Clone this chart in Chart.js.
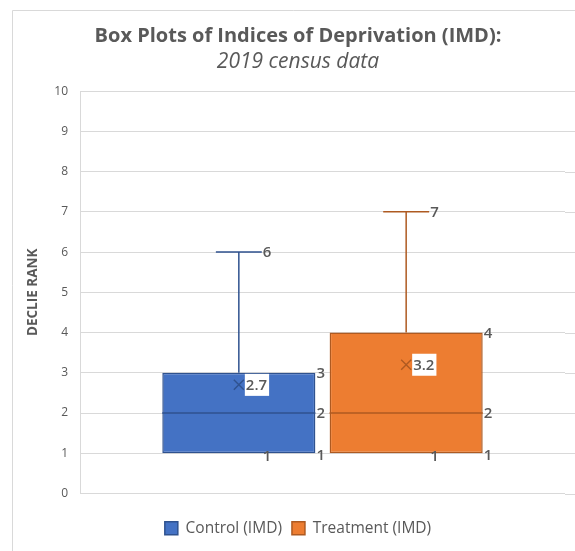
<!DOCTYPE html>
<html>
<head>
<meta charset="utf-8">
<script src="https://cdn.jsdelivr.net/npm/chart.js@4"></script>
<style>
  html, body { margin: 0; padding: 0; background: #fff; overflow: hidden; }
  #wrap { position: relative; width: 575px; height: 560px; }
</style>
</head>
<body>
<div id="wrap"><canvas id="chart" width="575" height="560"></canvas></div>
<script>
// box plot data
var seriesNames = ['Control (IMD)', 'Treatment (IMD)'];
var minValues = [1, 1];
var q1Values = [1, 1];
var medianValues = [2, 2];
var q3Values = [3, 4];
var maxValues = [6, 7];
var meanValues = [2.7, 3.2];
var yTicks = [0, 1, 2, 3, 4, 5, 6, 7, 8, 9, 10];

var fillColors = ['#4472C4', '#ED7D31'];
var lineColors = ['#2F528F', '#AE5A21'];
var textColor = '#595959';
var fontFamily = '"Open Sans", "DejaVu Sans", sans-serif';

var datasets = seriesNames.map(function (name, i) {
  return {
    label: name,
    data: [[q1Values[i], q3Values[i]]],
    backgroundColor: fillColors[i],
    borderColor: lineColors[i],
    borderWidth: 1.5,
    borderSkipped: false,
    categoryPercentage: 0.69,
    barPercentage: 0.915
  };
});

// frame round the whole chart, like the office chart border
var framePlugin = {
  id: 'frame',
  beforeDraw: function (chart) {
    var ctx = chart.ctx;
    ctx.save();
    ctx.fillStyle = '#fff';
    ctx.fillRect(0, 0, chart.width, chart.height);
    ctx.strokeStyle = '#d9d9d9';
    ctx.lineWidth = 1;
    ctx.beginPath();
    ctx.moveTo(12.5, chart.height);
    ctx.lineTo(12.5, 10.5);
    ctx.lineTo(chart.width, 10.5);
    ctx.stroke();
    // grid lines run on past the plot area to the right edge
    var y = chart.scales.y;
    ctx.beginPath();
    yTicks.forEach(function (t) {
      var py = Math.round(y.getPixelForValue(t)) + 0.5;
      ctx.moveTo(chart.chartArea.right, py);
      ctx.lineTo(chart.width, py);
    });
    ctx.stroke();
    ctx.restore();
  }
};

// whiskers, medians, means and value labels
var boxPlugin = {
  id: 'boxExtras',
  afterDatasetsDraw: function (chart) {
    var ctx = chart.ctx;
    var y = chart.scales.y;
    ctx.save();
    chart.data.datasets.forEach(function (ds, i) {
      var bar = chart.getDatasetMeta(i).data[0];
      var x = bar.x;
      var half = bar.width / 2;
      var left = x - half, right = x + half;
      var capHalf = bar.width * 0.15;
      var yMax = y.getPixelForValue(maxValues[i]);
      var yMin = y.getPixelForValue(minValues[i]);
      var yQ1 = y.getPixelForValue(q1Values[i]);
      var yQ3 = y.getPixelForValue(q3Values[i]);
      var yMed = y.getPixelForValue(medianValues[i]);
      var yMean = y.getPixelForValue(meanValues[i]);

      ctx.strokeStyle = lineColors[i];
      ctx.lineWidth = 1.5;
      ctx.beginPath();
      ctx.moveTo(x, yQ3); ctx.lineTo(x, yMax);
      ctx.moveTo(x, yQ1); ctx.lineTo(x, yMin);
      ctx.moveTo(x - capHalf, yMax); ctx.lineTo(x + capHalf, yMax);
      ctx.moveTo(left, yMed); ctx.lineTo(right, yMed);
      ctx.stroke();

      // mean marker
      ctx.lineWidth = 1.4;
      ctx.beginPath();
      ctx.moveTo(x - 5, yMean - 5); ctx.lineTo(x + 5, yMean + 5);
      ctx.moveTo(x + 5, yMean - 5); ctx.lineTo(x - 5, yMean + 5);
      ctx.stroke();

      ctx.font = '600 15px ' + fontFamily;
      ctx.textBaseline = 'middle';
      ctx.textAlign = 'left';

      var meanText = String(meanValues[i]);
      var w = ctx.measureText(meanText).width;
      ctx.fillStyle = '#fff';
      ctx.fillRect(x + 6, yMean - 11, w + 3, 22);
      ctx.fillStyle = textColor;
      ctx.fillText(meanText, x + 7, yMean + 1);

      ctx.fillText(String(maxValues[i]), x + capHalf + 1, yMax + 1);
      ctx.fillText(String(minValues[i]), x + capHalf + 1, yMin + 3);
      ctx.fillText(String(q3Values[i]), right + 1, yQ3 + 1);
      ctx.fillText(String(medianValues[i]), right + 1, yMed + 1);
      ctx.fillText(String(q1Values[i]), right + 1, yQ1 + 2);
    });
    ctx.restore();
  }
};

new Chart(document.getElementById('chart'), {
  type: 'bar',
  data: { labels: [''], datasets: datasets },
  options: {
    responsive: false,
    animation: false,
    layout: { padding: { left: 31, right: 10, top: 13, bottom: 14 } },
    plugins: {
      tooltip: { enabled: false },
      title: {
        display: true,
        text: 'Box Plots of Indices of Deprivation (IMD):',
        color: textColor,
        font: { family: fontFamily, size: 20, weight: 'bold', lineHeight: 1.2 },
        padding: { top: 11, bottom: 2 }
      },
      subtitle: {
        display: true,
        text: '2019 census data',
        color: textColor,
        font: { family: fontFamily, size: 21, style: 'italic', lineHeight: 1.15 },
        padding: { top: 0, bottom: 17 }
      },
      legend: {
        position: 'bottom',
        labels: {
          color: textColor,
          font: { family: fontFamily, size: 15.5 },
          boxWidth: 13,
          boxHeight: 13,
          padding: 10
        }
      }
    },
    scales: {
      x: {
        grid: { display: false },
        border: { display: false },
        ticks: { display: false },
        afterFit: function (s) { s.height = 17; }
      },
      y: {
        min: 0,
        max: 10,
        afterFit: function (s) { s.width = 49; },
        afterBuildTicks: function (s) {
          s.ticks = yTicks.map(function (v) { return { value: v }; });
        },
        grid: { color: '#d9d9d9', drawTicks: false },
        border: { color: '#d9d9d9' },
        ticks: {
          color: textColor,
          padding: 12,
          font: { family: fontFamily, size: 12 }
        },
        title: {
          display: true,
          text: 'DECLIE RANK',
          color: textColor,
          font: { family: fontFamily, size: 13.5, weight: 'bold' },
          padding: { top: -6 }
        }
      }
    }
  },
  plugins: [framePlugin, boxPlugin]
});
</script>
</body>
</html>
